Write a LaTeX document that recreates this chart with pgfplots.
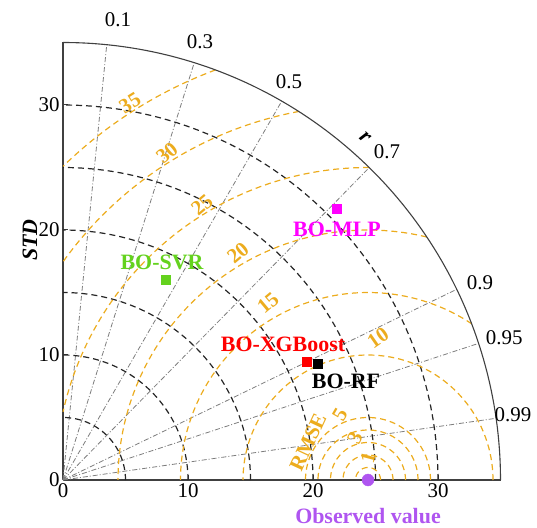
\documentclass[border=0pt]{standalone}
\usepackage{pgfplots}
\pgfplotsset{compat=1.18}
\usepackage{fontspec}
\setmainfont{Liberation Serif}
\definecolor{orng}{RGB}{236,172,30}
\definecolor{mgn}{RGB}{255,0,255}
\definecolor{grn}{RGB}{100,210,30}
\definecolor{purp}{RGB}{175,85,240}
\definecolor{rd}{RGB}{255,0,0}
\definecolor{gry}{RGB}{125,125,125}
\pgfplotsset{
 corr/.style={gry, line width=0.8bp, dash pattern=on 5bp off 2bp on 1bp off 2bp},
 stdarc/.style={black!85, line width=1.2bp, dash pattern=on 6bp off 4bp, domain=0:90, samples=61},
 rmse/.style={orng, line width=1.2bp, dash pattern=on 6bp off 4bp, samples=73},
}
\tikzset{
 rl/.style={orng, inner sep=0pt, font=\bfseries\fontsize{21}{21}\selectfont},
 cl/.style={black, inner sep=0pt, font=\fontsize{21}{21}\selectfont},
 ml/.style={inner sep=0pt, font=\bfseries\fontsize{22}{22}\selectfont},
}
\begin{document}
\begin{tikzpicture}
\begin{axis}[
 x=12.5bp, y=12.5bp, xmin=0, xmax=35, ymin=0, ymax=35,
 axis x line=bottom, axis y line=left,
 axis line style={-, line width=1.3bp, color=black!75},
 xtick={0,10,20,30}, ytick={0,10,20,30},
 tick align=inside, major tick length=5bp, tick style={black!75, line width=1bp},
 ticklabel style={font=\fontsize{21}{21}\selectfont},
 /pgf/number format/assume math mode=true,
 clip=false,
]
% correlation lines
\addplot[corr] coordinates {(0,0) (3.5,34.825)};
\addplot[corr] coordinates {(0,0) (10.5,33.388)};
\addplot[corr] coordinates {(0,0) (17.5,30.311)};
\addplot[corr] coordinates {(0,0) (24.5,24.995)};
\addplot[corr] coordinates {(0,0) (31.5,15.256)};
\addplot[corr] coordinates {(0,0) (33.25,10.929)};
\addplot[corr] coordinates {(0,0) (34.65,4.937)};
% STD arcs
\addplot[stdarc] ({5*cos(x)},{5*sin(x)});
\addplot[stdarc] ({10*cos(x)},{10*sin(x)});
\addplot[stdarc] ({15*cos(x)},{15*sin(x)});
\addplot[stdarc] ({20*cos(x)},{20*sin(x)});
\addplot[stdarc] ({25*cos(x)},{25*sin(x)});
\addplot[stdarc] ({30*cos(x)},{30*sin(x)});
% RMSE arcs
\addplot[rmse, domain=0:180] ({24.4+1*cos(x)},{1*sin(x)});
\addplot[rmse, domain=0:180] ({24.4+2*cos(x)},{2*sin(x)});
\addplot[rmse, domain=0:180] ({24.4+3*cos(x)},{3*sin(x)});
\addplot[rmse, domain=0:180] ({24.4+4*cos(x)},{4*sin(x)});
\addplot[rmse, domain=0:180] ({24.4+5*cos(x)},{5*sin(x)});
\addplot[rmse, domain=0:180] ({24.4+10*cos(x)},{10*sin(x)});
\addplot[rmse, domain=56.4:180] ({24.4+15*cos(x)},{15*sin(x)});
\addplot[rmse, domain=76.4:180] ({24.4+20*cos(x)},{20*sin(x)});
\addplot[rmse, domain=89.8:167.4] ({24.4+25*cos(x)},{25*sin(x)});
\addplot[rmse, domain=100.6:144.4] ({24.4+30*cos(x)},{30*sin(x)});
\addplot[rmse, domain=110.4:134.2] ({24.4+35*cos(x)},{35*sin(x)});
% outer arc
\addplot[black!75, line width=1.1bp, domain=0:90, samples=91] ({35*cos(x)},{35*sin(x)});
% RMSE labels
\node[rl, rotate=32] at (axis cs:5.36,30.16) {35};
\node[rl, rotate=40] at (axis cs:8.32,26.16) {30};
\node[rl, rotate=40] at (axis cs:11.12,22.0) {25};
\node[rl, rotate=40] at (axis cs:14.0,18.16) {20};
\node[rl, rotate=40] at (axis cs:16.4,14.16) {15};
\node[rl, rotate=35] at (axis cs:25.2,11.36) {10};
\node[rl, rotate=60] at (axis cs:22.16,5.2) {5};
\node[rl, rotate=65] at (axis cs:23.36,3.36) {3};
\node[rl, rotate=75] at (axis cs:24.4,1.76) {1};
\node[rl, rotate=65] at (axis cs:19.6,3.04) {RMSE};
% correlation labels
\node[cl] at (axis cs:4.4,36.8) {0.1};
\node[cl] at (axis cs:10.96,35.04) {0.3};
\node[cl] at (axis cs:18.08,31.84) {0.5};
\node[cl] at (axis cs:25.92,26.24) {0.7};
\node[cl] at (axis cs:33.36,15.76) {0.9};
\node[cl] at (axis cs:35.3,11.36) {0.95};
\node[cl] at (axis cs:36.0,5.2) {0.99};
\node[black, inner sep=0pt, rotate=-42, font=\bfseries\itshape\fontsize{22}{22}\selectfont] at (axis cs:24.16,27.36) {r};
\node[black, inner sep=0pt, rotate=90, font=\bfseries\itshape\fontsize{22}{22}\selectfont] at (axis cs:-2.64,19.2) {STD};
% data points
\addplot[only marks, mark=square*, mark size=4.5bp, mgn] coordinates {(21.92,21.68)};
\addplot[only marks, mark=square*, mark size=4.5bp, grn] coordinates {(8.24,16.0)};
\addplot[only marks, mark=square*, mark size=4.5bp, rd] coordinates {(19.52,9.44)};
\addplot[only marks, mark=square*, mark size=4.5bp, black] coordinates {(20.4,9.28)};
\addplot[only marks, mark=*, mark size=6bp, purp] coordinates {(24.4,0)};
% model labels
\node[ml, mgn] at (axis cs:21.92,20.08) {BO-MLP};
\node[ml, grn] at (axis cs:7.92,17.44) {BO-SVR};
\node[ml, rd] at (axis cs:17.6,10.88) {BO-XGBoost};
\node[ml, black] at (axis cs:22.64,7.92) {BO-RF};
\node[ml, purp] at (axis cs:24.4,-2.88) {Observed value};
\coordinate (bbl) at (axis cs:-5.04,-3.84);
\coordinate (btr) at (axis cs:37.92,38.4);
\end{axis}
\pgfresetboundingbox
\path[use as bounding box] (bbl) rectangle (btr);
\end{tikzpicture}
\end{document}
